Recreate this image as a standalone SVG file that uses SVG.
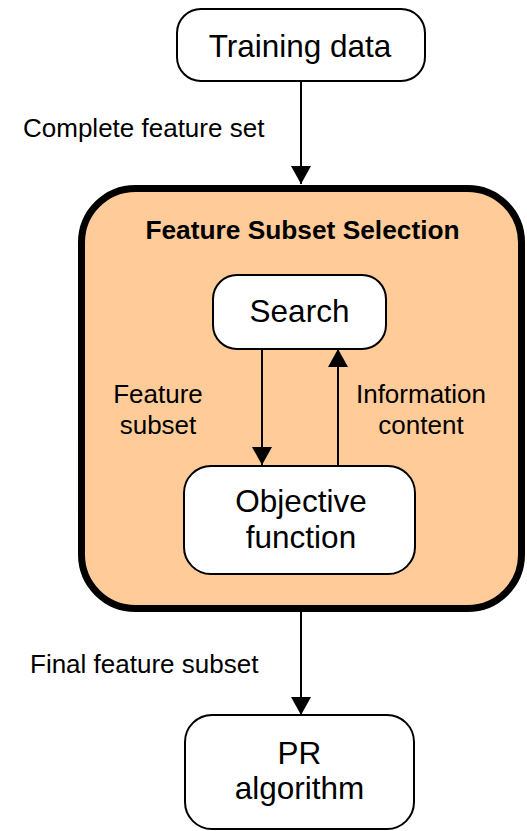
<svg xmlns="http://www.w3.org/2000/svg" width="527" height="831" viewBox="0 0 527 831">
  <style>
    .node { fill: #ffffff; stroke: #000000; stroke-width: 2; }
    .big { fill: #ffcc99; stroke: #000000; stroke-width: 7; }
    .t { font-family: "Liberation Sans", Arial, sans-serif; fill: #000000; }
    .n { font-size: 31.5px; text-anchor: middle; }
    .l { font-size: 26px; }
    .c { text-anchor: middle; }
    .b { font-size: 26.3px; font-weight: bold; text-anchor: middle; }
    .edge { stroke: #000000; stroke-width: 2; fill: none; marker-end: url(#arrow); }
  </style>
  <defs>
    <marker id="arrow" viewBox="0 0 18 20" refX="18" refY="10" markerWidth="18" markerHeight="20" markerUnits="userSpaceOnUse" orient="auto">
      <path d="M0,0 L18,10 L0,20 z" fill="#000000"/>
    </marker>
  </defs>
  <rect width="527" height="831" fill="#ffffff"/>

  <g id="fss">
    <rect class="big" x="81.5" y="188.5" width="440" height="420" rx="54" ry="54"/>
    <text class="t b" x="302.5" y="239">Feature Subset Selection</text>
  </g>

  <g id="training-data">
    <rect class="node" x="177" y="9" width="248" height="72" rx="24" ry="24"/>
    <text class="t n" x="300" y="57">Training data</text>
  </g>

  <g id="search">
    <rect class="node" x="213" y="275" width="173" height="74" rx="24" ry="24"/>
    <text class="t n" x="299.5" y="322">Search</text>
  </g>

  <g id="objective">
    <rect class="node" x="184" y="466" width="231" height="108" rx="27" ry="27"/>
    <text class="t n" x="301" y="512">Objective</text>
    <text class="t n" x="301" y="548">function</text>
  </g>

  <g id="pr">
    <rect class="node" x="185" y="715" width="229" height="114" rx="27" ry="27"/>
    <text class="t n" x="299.5" y="764">PR</text>
    <text class="t n" x="299.5" y="799">algorithm</text>
  </g>

  <g id="connectors">
    <line class="edge" x1="301" y1="81" x2="301" y2="184"/>
    <line class="edge" x1="262" y1="349" x2="262" y2="465"/>
    <line class="edge" x1="338" y1="466" x2="338" y2="349"/>
    <line class="edge" x1="301" y1="612" x2="301" y2="715"/>
  </g>

  <g id="labels">
    <text class="t l" x="23" y="137">Complete feature set</text>
    <text class="t l c" x="158" y="403">Feature</text>
    <text class="t l c" x="158" y="434">subset</text>
    <text class="t l c" x="421" y="403">Information</text>
    <text class="t l c" x="421" y="434">content</text>
    <text class="t l" x="30" y="673">Final feature subset</text>
  </g>
</svg>
